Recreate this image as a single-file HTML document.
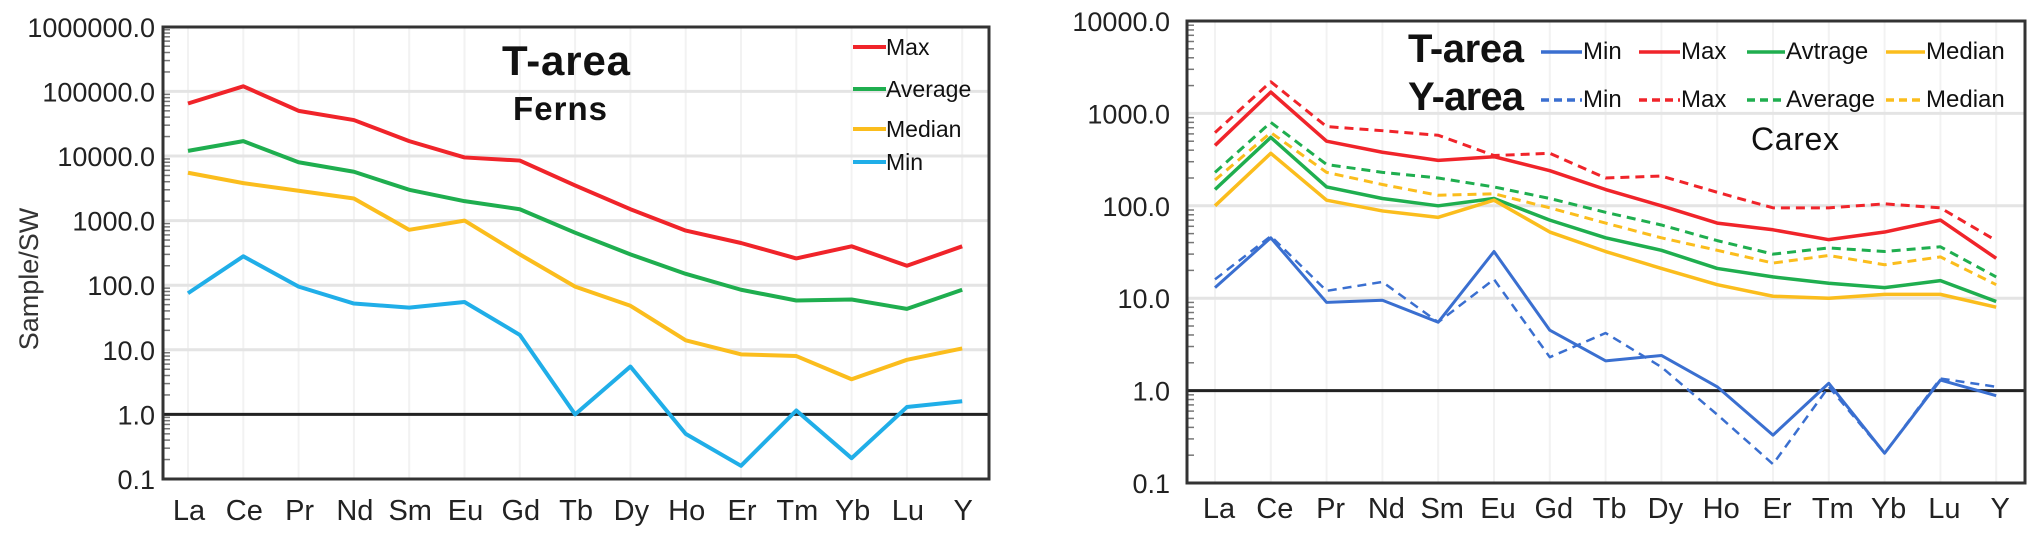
<!DOCTYPE html>
<html><head><meta charset="utf-8"><style>
html,body{margin:0;padding:0;background:#fff;}
svg{display:block;font-family:"Liberation Sans",Arial,sans-serif;}
</style></head><body>
<svg id="c" width="2032" height="540" viewBox="0 0 2032 540"></svg>
<script>
const cats=["La","Ce","Pr","Nd","Sm","Eu","Gd","Tb","Dy","Ho","Er","Tm","Yb","Lu","Y"];
// left chart: Ferns, T-area
const fernMax=[65000,120000,50000,36000,17000,9500,8500,3500,1500,700,450,260,400,200,400];
const fernAvg=[12000,17000,8000,5700,3000,2000,1500,650,300,150,85,58,60,43,85];
const fernMed=[5500,3800,2900,2200,720,1000,300,95,48,14,8.5,8,3.5,7,10.5];
const fernMin=[75,280,95,52,45,55,17,1.0,5.5,0.5,0.16,1.15,0.21,1.3,1.6];
const leftTicks=["0.1","1.0","10.0","100.0","1000.0","10000.0","100000.0","1000000.0"];
// right chart: Carex
const tMin=[13,45,9,9.5,5.5,32,4.5,2.1,2.4,1.1,0.33,1.2,0.21,1.3,0.88];
const tMax=[450,1700,500,380,310,340,240,150,100,65,55,43,52,70,27];
const tAvg=[150,550,160,120,100,120,70,45,33,21,17,14.5,13,15.5,9.2];
const tMed=[100,370,115,88,75,115,52,32,21,14,10.5,10,11,11,8];
const yMin=[16,47,12,15,5.5,16,2.3,4.2,1.8,0.55,0.16,1.1,0.21,1.35,1.1];
const yMax=[620,2200,720,650,580,350,370,200,210,140,95,95,105,95,42];
const yAvg=[230,800,280,230,200,160,120,85,62,42,30,35,32,36,17];
const yMed=[190,620,230,170,130,135,95,65,45,33,24,29,23,28,14];
const rightTicks=["0.1","1.0","10.0","100.0","1000.0","10000.0"];

const NS="http://www.w3.org/2000/svg";
const svg=document.getElementById('c');
function mk(tag,attrs,parent){const e=document.createElementNS(NS,tag);for(const k in attrs)e.setAttribute(k,attrs[k]);(parent||svg).appendChild(e);return e;}
const RED="#f0242a",GREEN="#1fae4f",GOLD="#fbbd1d",CYAN="#20aee8",BLUE="#3a6fd0";

function chart(cfg){
  const g=mk('g',{});
  
  
  const yS=v=>cfg.y0-(Math.log10(v)+1)*cfg.dec;
  const xS=i=>cfg.xa+i*cfg.xs;
  cats.forEach((c,i)=>{
    const l=mk('line',{x1:xS(i),x2:xS(i),y1:cfg.T,y2:cfg.B,stroke:"#f2f2f2","stroke-width":2},g);
    
    
  });
  cfg.ticks.forEach((t,i)=>{
    const y=cfg.y0-i*cfg.dec;
    if(i>0&&i<cfg.ticks.length-1){
      const l=mk('line',{x1:cfg.L,x2:cfg.R,y1:y,y2:y,stroke:"#e4e4e4","stroke-width":3},g);
      
      
    }
    const tx=mk('text',{x:cfg.lx,y:y+10,"text-anchor":"end","font-size":27,fill:"#222"},g);
    tx.textContent=t;
    
    
    if(i<cfg.ticks.length-1){for(let k=2;k<10;k++){const yy=y-Math.log10(k)*cfg.dec;
      mk('line',{x1:cfg.L,x2:cfg.L+7,y1:yy,y2:yy,stroke:"#777","stroke-width":1.5},g);}}
  });
  cats.forEach((c,i)=>{
    const tx=mk('text',{x:xS(i)+cfg.lo,y:cfg.ly,"text-anchor":"middle","font-size":29,fill:"#222"},g);
    tx.textContent=c;
    
    
  });
  const one=mk('line',{x1:cfg.L,x2:cfg.R,y1:yS(1),y2:yS(1),stroke:"#222","stroke-width":3},g);
  
  
  cfg.series.forEach(s=>{
    const p=mk('polyline',{points:s.d.map((v,i)=>xS(i)+","+yS(v)).join(" "),fill:"none",stroke:s.c,"stroke-width":s.w||4,"stroke-linejoin":"round","stroke-dasharray":s.dash?"9,6":"none"},g);
    
    
  });
  const fr=mk('rect',{x:cfg.L,y:cfg.T,width:cfg.R-cfg.L,height:cfg.B-cfg.T,fill:"none",stroke:"#333","stroke-width":3},g);
  
  
  return g;
}
chart({name:"ferns-chart",L:163,R:989,T:27,B:479,y0:479,dec:64.6,xa:188,xs:55.3,lx:155,ly:520,lo:1,ticks:leftTicks,
 series:[{d:fernMax,c:RED,n:"series-max"},{d:fernAvg,c:GREEN,n:"series-average"},{d:fernMed,c:GOLD,n:"series-median"},{d:fernMin,c:CYAN,n:"series-min"}]});
chart({name:"carex-chart",L:1187,R:2025,T:21,B:483,y0:483,dec:92.4,xa:1215,xs:55.8,lx:1170,ly:518,lo:4,ticks:rightTicks,
 series:[{d:yMax,c:RED,n:"y-max",dash:1,w:3},{d:yAvg,c:GREEN,n:"y-average",dash:1,w:3},{d:yMed,c:GOLD,n:"y-median",dash:1,w:3},{d:yMin,c:BLUE,n:"y-min",dash:1,w:2.5},
 {d:tMax,c:RED,n:"t-max",w:3.5},{d:tAvg,c:GREEN,n:"t-average",w:3.5},{d:tMed,c:GOLD,n:"t-median",w:3.5},{d:tMin,c:BLUE,n:"t-min",w:3}]});

function text(x,y,s,size,name,extra){const t=mk('text',Object.assign({x:x,y:y,"font-size":size,fill:"#111"},extra||{}));t.textContent=s;
  
  return t;}
// left annotations
text(0,0,"Sample/SW",27,"y-axis-title",{transform:"translate(38,279) rotate(-90)","text-anchor":"middle",fill:"#333"});
text(502,75,"T-area",42,"title-t-area",{textLength:128,"font-weight":"bold"});
text(513,120,"Ferns",33,"subtitle-ferns",{textLength:94,"font-weight":"bold"});
[["Max",RED,55],["Average",GREEN,97],["Median",GOLD,137],["Min",CYAN,170]].forEach(l=>{
  const ln=mk('line',{x1:853,x2:886,y1:l[2]-8,y2:l[2]-8,stroke:l[1],"stroke-width":4});
  
  
  text(886,l[2],l[0],23,"legend-entry");
});
// right annotations
text(1408,62,"T-area",40,"legend-title-t-area",{textLength:116,"font-weight":"bold"});
text(1408,110,"Y-area",40,"legend-title-y-area",{textLength:116,"font-weight":"bold"});
text(1751,150,"Carex",32,"subtitle-carex",{textLength:88});
const leg=[[1541,1582,"Min",BLUE,47],[1639,1680,"Max",RED,49],[1747,1785,"Avtrage",GREEN,92],[1886,1925,"Median",GOLD,89]];
const leg2=["Min","Max","Average","Median"];
leg.forEach((l,i)=>{
  [[52,0,l[2]],[100,1,leg2[i]]].forEach(r=>{
    const ln=mk('line',{x1:l[0],x2:l[1],y1:r[0],y2:r[0],stroke:l[3],"stroke-width":3.5,"stroke-dasharray":r[1]?"8,5":"none"});
    
    
    text(l[1]+1,r[0]+7,r[2],24,"legend-entry");
  });
});
</script>
</body></html>
